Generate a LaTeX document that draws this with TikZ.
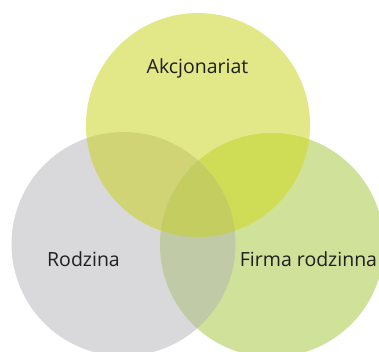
\documentclass[tikz,border=0pt]{standalone}
\usepackage{fontspec}
\setmainfont{Open Sans}
\begin{document}
\begin{tikzpicture}[x=1pt,y=-1pt,
  lbl/.style={anchor=base,inner sep=0pt,text=black!88,font=\fontsize{19.5}{23}\selectfont}]
\definecolor{cTop}{HTML}{E2E887}
\definecolor{cLeft}{HTML}{D9D9DB}
\definecolor{cRight}{HTML}{D0E199}
\definecolor{cTL}{HTML}{D0D474}
\definecolor{cTR}{HTML}{CEDC56}
\definecolor{cLR}{HTML}{C0CAA6}
\definecolor{cAll}{HTML}{C4CE60}
\useasboundingbox (0,0) rectangle (379,351);
\fill[white] (0,0) rectangle (379,351);
\coordinate (T) at (198,125);
\coordinate (L) at (123.5,244);
\coordinate (R) at (272,245);
\def\rad{112}
\fill[cLeft] (L) circle[radius=\rad];
\fill[cRight] (R) circle[radius=\rad];
\fill[cTop] (T) circle[radius=\rad];
\begin{scope}
  \clip (T) circle[radius=\rad];
  \fill[cTL] (L) circle[radius=\rad];
  \fill[cTR] (R) circle[radius=\rad];
\end{scope}
\begin{scope}
  \clip (L) circle[radius=\rad];
  \fill[cLR] (R) circle[radius=\rad];
  \clip (R) circle[radius=\rad];
  \fill[cAll] (T) circle[radius=\rad];
\end{scope}
\node[lbl] (akc) at (197.5,73) {Akcjonariat};
\node[lbl] (rod) at (83.5,266) {Rodzina};
\node[lbl] (firm) at (308.5,266) {Firma rodzinna};
\end{tikzpicture}
\end{document}
